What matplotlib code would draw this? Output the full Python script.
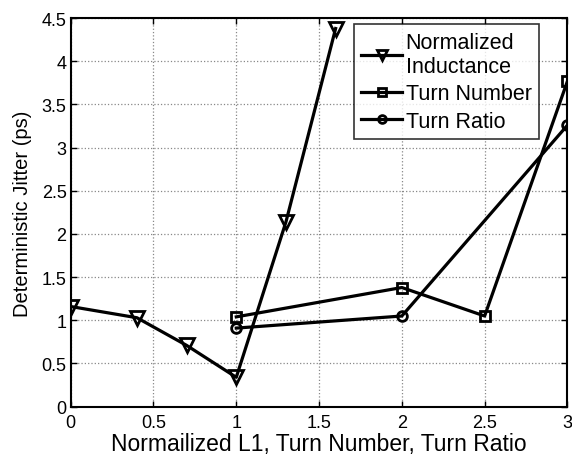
import matplotlib
matplotlib.use("Agg")
import matplotlib.pyplot as plt

plt.rcParams['font.family'] = ['Liberation Sans', 'DejaVu Sans']

# Normalized inductance sweep
ind_x = [0, 0.4, 0.7, 1.0, 1.3, 1.6]
ind_y = [1.16, 1.03, 0.71, 0.34, 2.14, 4.38]
# Turn number sweep
tn_x = [1, 2, 2.5, 3]
tn_y = [1.04, 1.38, 1.05, 3.77]
# Turn ratio sweep
tr_x = [1, 2, 3]
tr_y = [0.91, 1.05, 3.26]

xticks = [0, 0.5, 1, 1.5, 2, 2.5, 3]
xticklabels = ['0', '0.5', '1', '1.5', '2', '2.5', '3']
yticks = [0, 0.5, 1, 1.5, 2, 2.5, 3, 3.5, 4, 4.5]
yticklabels = ['0', '0.5', '1', '1.5', '2', '2.5', '3', '3.5', '4', '4.5']

fig = plt.figure(figsize=(5.72, 4.56), dpi=100)
ax = fig.add_axes([0.1236, 0.106, 0.8684, 0.852])

lw = 2.3
ax.plot(ind_x, ind_y, color='black', lw=lw, marker='v', ms=9.5,
        mfc='none', mec='black', mew=2, label='Normalized\nInductance')
ax.plot(tn_x, tn_y, color='black', lw=lw, marker='s', ms=7,
        mfc='none', mec='black', mew=2, label='Turn Number')
ax.plot(tr_x, tr_y, color='black', lw=lw, marker='o', ms=7,
        mfc='none', mec='black', mew=2, label='Turn Ratio')

ax.set_xlim(0, 3)
ax.set_ylim(0, 4.5)
ax.set_xticks(xticks)
ax.set_xticklabels(xticklabels)
ax.set_yticks(yticks)
ax.set_yticklabels(yticklabels)
ax.tick_params(direction='in', top=True, right=True, labelsize=13,
               length=4, width=1, pad=3)
ax.tick_params(axis='x', pad=5)
ax.grid(True, color='#888888', linestyle=':', linewidth=0.9)
for s in ax.spines.values():
    s.set_linewidth(1.5)

ax.set_xlabel('Normailized L1, Turn Number, Turn Ratio', fontsize=16.5, labelpad=1)
ax.set_ylabel('Deterministic Jitter (ps)', fontsize=14.5, labelpad=7)

leg = ax.legend(loc='upper right', bbox_to_anchor=(0.943, 0.985), fontsize=15.5,
                frameon=True, fancybox=False, edgecolor='black',
                handlelength=1.9, handletextpad=0.15, borderpad=0.35,
                labelspacing=0.3, borderaxespad=0, markerscale=0.8)
leg.get_frame().set_linewidth(1.2)

fig.savefig('out.png', dpi=100)
